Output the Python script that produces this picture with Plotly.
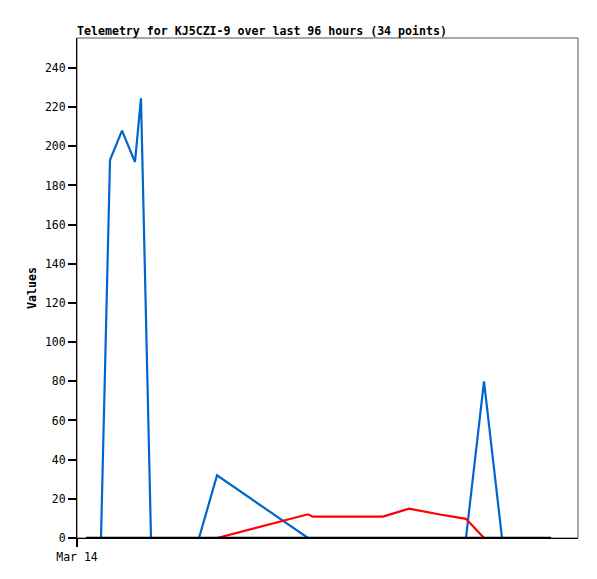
import plotly.graph_objects as go

# hours since Mar 14 00:00
hours = [1.86, 4.96, 6.82, 9.30, 11.98, 13.22, 15.29, 25.21, 28.93, 47.73,
         48.76, 63.22, 68.60, 75.00, 80.37, 84.09, 87.81, 97.93]
blue_vals = [0, 0, 193, 208, 192, 224.5, 0, 0, 32, 0,
             0, 0, 0, 0, 0, 80, 0, 0]
red_vals = [0, 0, 0, 0, 0, 0, 0, 0, 0, 12.1,
            10.9, 10.9, 15.0, 12.0, 9.8, 0, 0, 0]
black_vals = [0] * len(hours)

y_ticks = list(range(0, 241, 20))
x_tickvals = [0]
x_ticktext = ["Mar 14"]

FONT = "DejaVu Sans Mono"
OFF = 8  # page body margin
W, H = 597 - OFF, 579 - OFF

fig = go.Figure()
fig.add_trace(go.Scatter(x=hours, y=blue_vals, mode="lines",
                         line=dict(color="#0066CC", width=2.2), showlegend=False))
fig.add_trace(go.Scatter(x=hours, y=red_vals, mode="lines",
                         line=dict(color="#FF0000", width=2.2), showlegend=False))
fig.add_trace(go.Scatter(x=hours, y=black_vals, mode="lines",
                         line=dict(color="#000000", width=2.6), showlegend=False))

fig.update_layout(
    width=W, height=H,
    margin=dict(l=77 - OFF, r=19, t=38 - OFF, b=41),
    paper_bgcolor="white", plot_bgcolor="white",
    font=dict(family=FONT, size=11, color="black"),
    title=dict(text="<b>Telemetry for KJ5CZI-9 over last 96 hours (34 points)</b>",
               x=(77 - OFF) / W, xanchor="left", xref="container",
               y=1 - (31 - OFF) / H, yanchor="middle", yref="container",
               font=dict(family=FONT, size=11.6, color="black")),
    xaxis=dict(range=[0, 501 / 4.84], showgrid=False, zeroline=False,
               tickvals=x_tickvals, ticktext=x_ticktext,
               ticks="outside", ticklen=8, tickcolor="#000000", tickwidth=1.5,
               showline=True, linecolor="black", linewidth=1,
               tickfont=dict(family=FONT, size=11.5)),
    yaxis=dict(range=[0, 255.3], showgrid=False, zeroline=False,
               tickvals=y_ticks, ticks="outside", ticklen=8, tickcolor="#000000",
               tickwidth=1.5, showline=True, linecolor="black", linewidth=1,
               ticksuffix=" ",
               tickfont=dict(family=FONT, size=11.5)),
    shapes=[dict(type="rect", xref="paper", yref="paper", x0=0, x1=1, y0=0, y1=1,
                 line=dict(color="#555555", width=1), layer="below")],
    annotations=[dict(text="<b>Values</b>", textangle=-90, xref="paper", yref="paper",
                      x=-45 / 501, y=0.5, showarrow=False, xanchor="center",
                      yanchor="middle", font=dict(family=FONT, size=11.6))],
)

fig.write_html("out.html")
